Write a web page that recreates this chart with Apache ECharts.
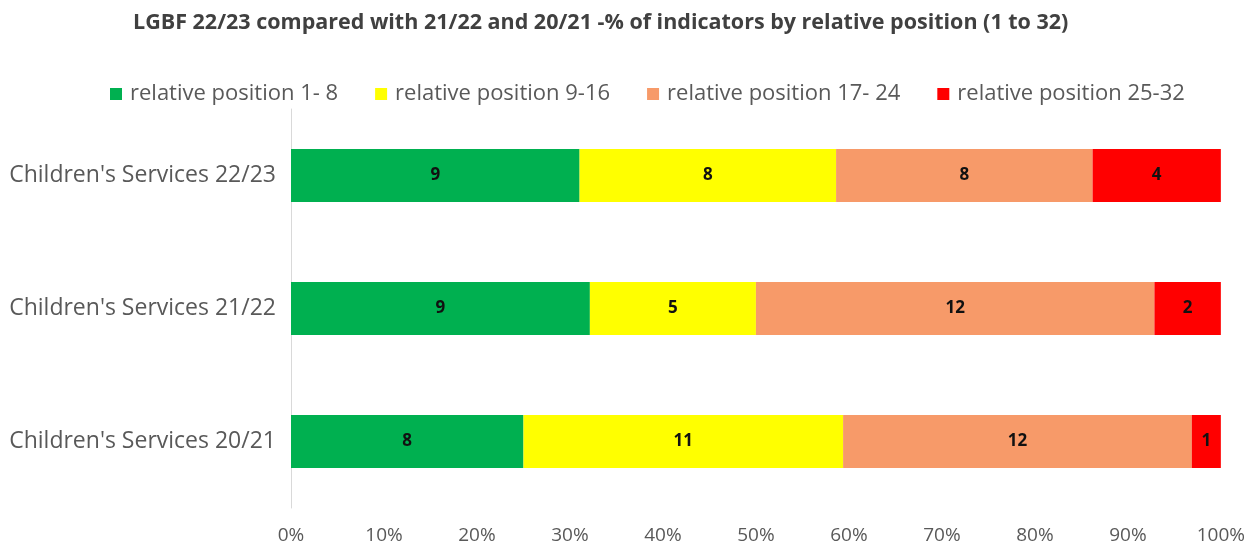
<!DOCTYPE html>
<html>
<head>
<meta charset="utf-8">
<script src="https://cdn.jsdelivr.net/npm/echarts@6/dist/echarts.min.js"></script>
<style>
  html, body { margin: 0; padding: 0; background: #fff; }
  #chart { width: 1248px; height: 545px; }
</style>
</head>
<body>
<div id="chart"></div>
<script>
// categories, bottom to top
var categories = ["Children's Services 20/21", "Children's Services 21/22", "Children's Services 22/23"];
var seriesNames = ['relative position 1- 8', 'relative position 9-16', 'relative position 17- 24', 'relative position 25-32'];
var colors = ['#00B050', '#FFFF00', '#F79A69', '#FF0000'];

// number of indicators in each band
var pos1to8 = [8, 9, 9];
var pos9to16 = [11, 5, 8];
var pos17to24 = [12, 12, 8];
var pos25to32 = [1, 2, 4];

var counts = [pos1to8, pos9to16, pos17to24, pos25to32];
var tickLabels = ['0%', '10%', '20%', '30%', '40%', '50%', '60%', '70%', '80%', '90%', '100%'];

// totals per category, used to turn counts into %
var totals = categories.map(function (c, i) {
    return counts.reduce(function (s, arr) { return s + arr[i]; }, 0);
});

var font = '"Open Sans", Lato, sans-serif';

var series = seriesNames.map(function (name, k) {
    return {
        name: name,
        type: 'bar',
        stack: 'total',
        barWidth: '40%',
        itemStyle: { color: colors[k] },
        label: {
            show: true,
            position: 'inside',
            color: '#111',
            fontWeight: 'bold',
            fontSize: 17,
            fontFamily: font,
            formatter: function (p) { return counts[k][p.dataIndex]; }
        },
        data: counts[k].map(function (v, i) { return v / totals[i] * 100; })
    };
});

echarts.init(document.getElementById('chart')).setOption({
    animation: false,
    title: {
        text: 'LGBF 22/23 compared with 21/22 and 20/21 -% of indicators by relative position (1 to 32)',
        left: 128,
        top: 7,
        textStyle: { fontFamily: font, fontSize: 21.5, fontWeight: 'bold', color: '#404040' }
    },
    legend: {
        top: 78,
        left: 105,
        itemWidth: 12,
        itemHeight: 12,
        itemGap: 37,
        icon: 'rect',
        textStyle: { fontFamily: font, fontSize: 22, color: '#595959', padding: [0, 0, 0, 3] },
        data: seriesNames
    },
    grid: { left: 291, right: 26, top: 109, bottom: 36, containLabel: false },
    xAxis: {
        type: 'value',
        min: 0,
        max: 100,
        interval: 10,
        axisLine: { show: false },
        axisTick: { show: false },
        splitLine: { show: false },
        axisLabel: {
            margin: 18,
            fontFamily: font,
            fontSize: 19,
            color: '#595959',
            formatter: function (v) { return tickLabels[Math.round(v / 10)]; }
        }
    },
    yAxis: {
        type: 'category',
        data: categories,
        axisLine: { show: true, lineStyle: { color: '#D9D9D9' } },
        axisTick: { show: false },
        axisLabel: { margin: 15, fontFamily: font, fontSize: 23, color: '#595959' }
    },
    series: series
});
</script>
</body>
</html>
